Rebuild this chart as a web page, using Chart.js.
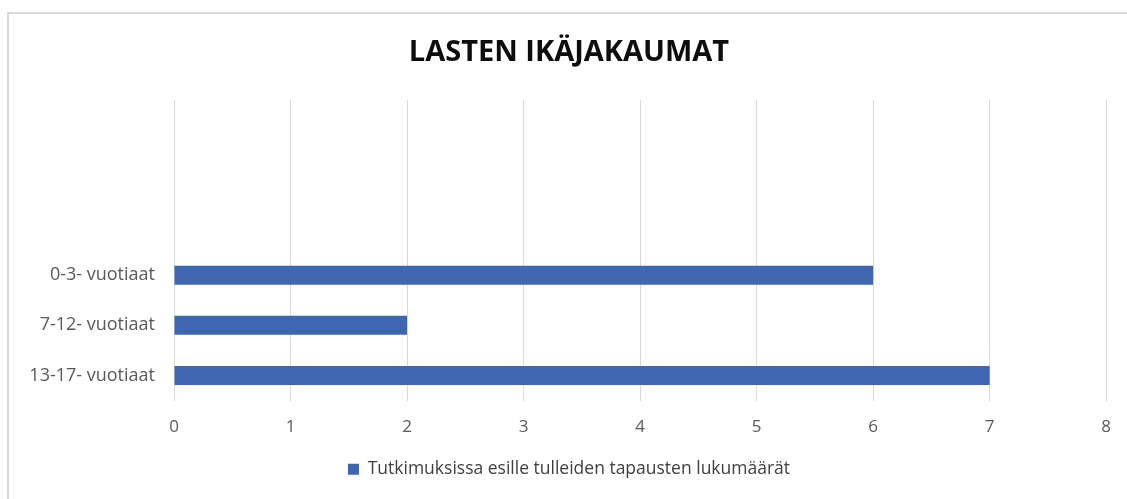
<!DOCTYPE html>
<html>
<head>
<meta charset="utf-8">
<script src="https://cdn.jsdelivr.net/npm/chart.js@4"></script>
<style>
  html, body { margin: 0; padding: 0; background: #fff; }
  #wrap { position: relative; width: 1127px; height: 499px; overflow: hidden; }
  #frame {
    position: absolute; left: 7px; top: 12px; width: 1200px; height: 600px;
    border-left: 2px solid #d9d9d9; border-top: 2px solid #d9d9d9;
    pointer-events: none;
  }
</style>
</head>
<body>
<div id="wrap">
  <canvas id="chart" width="1127" height="499"></canvas>
  <div id="frame"></div>
</div>
<script>
// age groups, top to bottom (first three rows are empty in the source)
const ageGroups = ["", "", "", "0-3- vuotiaat", "7-12- vuotiaat", "13-17- vuotiaat"];
const caseCounts = [null, null, null, 6, 2, 7];
const xTicks = [0, 1, 2, 3, 4, 5, 6, 7, 8];
const seriesName = "Tutkimuksissa esille tulleiden tapausten lukumäärät";

const FONT = "'Open Sans', 'Noto Sans', sans-serif";
const BAR_BLUE = "#3f67b1";
const PAD_LEFT = 30;

new Chart(document.getElementById("chart"), {
  type: "bar",
  data: {
    labels: ageGroups,
    datasets: [{
      label: seriesName,
      data: caseCounts,
      backgroundColor: BAR_BLUE,
      borderWidth: 0,
      barPercentage: 0.38,
      categoryPercentage: 1
    }]
  },
  options: {
    indexAxis: "y",
    responsive: false,
    animation: false,
    layout: { padding: { left: PAD_LEFT, right: 19, top: 0, bottom: 11 } },
    plugins: {
      title: {
        display: true,
        text: "LASTEN IKÄJAKAUMAT",
        color: "#0d0d0d",
        font: { family: FONT, size: 29, weight: "bold" },
        padding: { top: 35, bottom: 30 }
      },
      legend: {
        position: "bottom",
        labels: {
          color: "#404040",
          font: { family: FONT, size: 17.5 },
          boxWidth: 11,
          boxHeight: 11,
          padding: 10
        }
      },
      tooltip: { enabled: false }
    },
    scales: {
      x: {
        min: xTicks[0],
        max: xTicks[xTicks.length - 1],
        afterBuildTicks: scale => { scale.ticks = xTicks.map(v => ({ value: v })); },
        afterFit: scale => { scale.height = 50; },
        grid: { color: "#d9d9d9", drawTicks: false },
        border: { display: false },
        ticks: {
          color: "#595959",
          font: { family: FONT, size: 17 },
          padding: 16
        }
      },
      y: {
        afterFit: scale => { scale.width = 174 - PAD_LEFT; },
        grid: { display: false, drawTicks: false },
        border: { display: false },
        ticks: {
          color: "#595959",
          font: { family: FONT, size: 18 },
          padding: 19,
          autoSkip: false
        }
      }
    }
  }
});
</script>
</body>
</html>
